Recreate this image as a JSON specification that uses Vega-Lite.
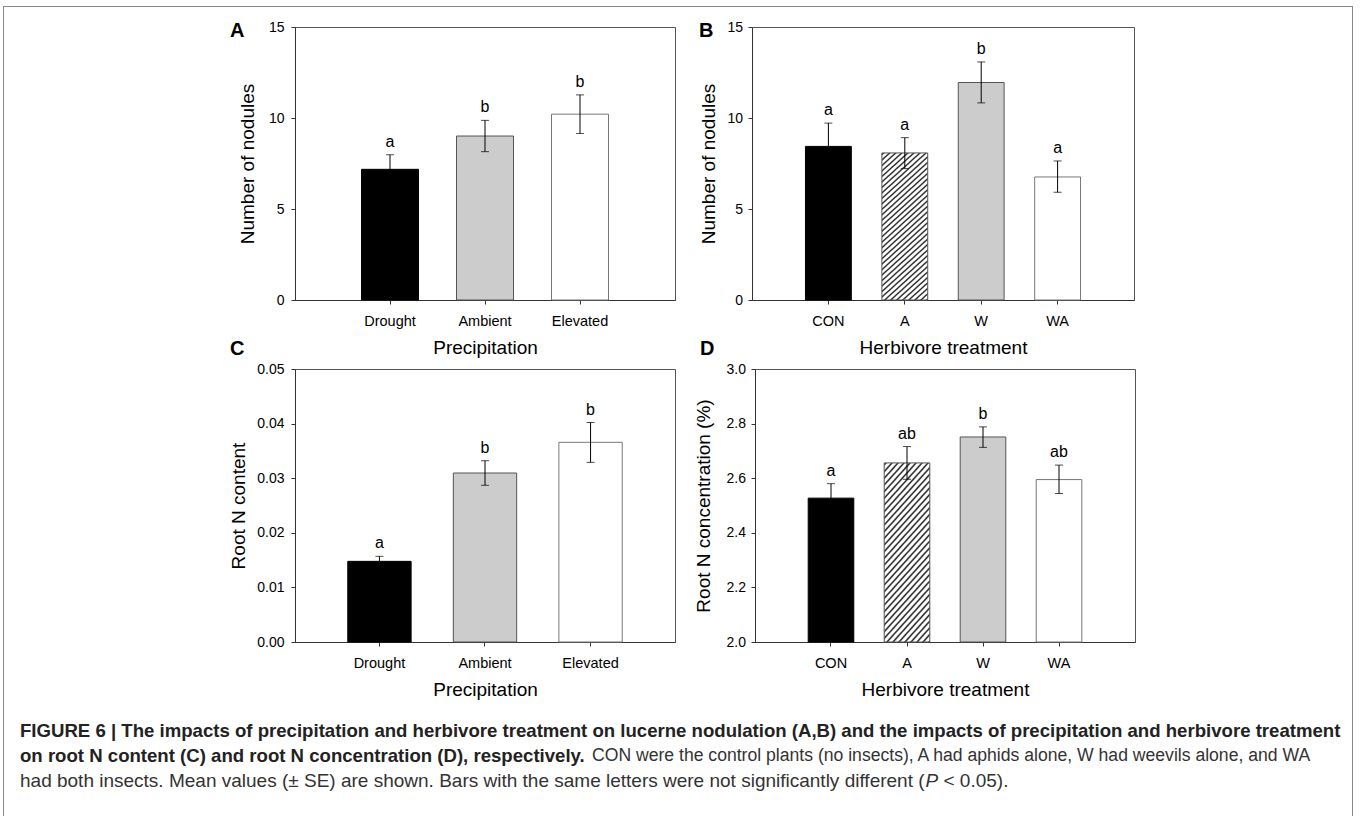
{
  "$schema": "https://vega.github.io/schema/vega-lite/v6.json",
  "padding": {"left": 3, "top": 6, "right": 0, "bottom": 0},
  "background": "white",
  "config": {
    "font": "Liberation Sans",
    "view": {"stroke": "#555", "strokeWidth": 1},
    "axis": {"domainColor": "#333", "tickColor": "#333", "tickSize": 4, "labelColor": "#000", "titleColor": "#000", "labelFontSize": 14, "titleFontSize": 19, "titleFontWeight": "normal", "grid": false, "labelFont": "Liberation Sans", "titleFont": "Liberation Sans"},
    "title": {"font": "Liberation Sans", "fontSize": 20, "fontWeight": "bold", "color": "#000", "anchor": "start", "frame": "group", "baseline": "alphabetic", "offset": 0}
  },
  "spacing": 0,
  "hconcat": [
    {"width": 1, "height": 810, "view": {"stroke": null, "fill": "#888"}, "data": {"values": []}, "mark": "point"},
    {
      "spacing": 0,
      "vconcat": [
        {"width": 1348, "height": 1, "view": {"stroke": null, "fill": "#888"}, "data": {"values": []}, "mark": "point"},
        {"width": 1, "height": 12, "view": {"stroke": null}, "data": {"values": []}, "mark": "point"},
        {
          "spacing": -20,
          "vconcat": [
            {
              "spacing": 22,
              "hconcat": [
                {"width": 203, "height": 1, "view": {"stroke": null}, "data": {"values": []}, "mark": "point"},
                {
                  "width": 380, "height": 273,
                  "title": {"text": "A", "dx": -65, "dy": 24.7},
                  "data": {"values": [
                    {"Precipitation": "Drought", "mean": 7.18, "lo": 6.38, "hi": 7.98, "letter": "a"},
                    {"Precipitation": "Ambient", "mean": 9.01, "lo": 8.15, "hi": 9.87, "letter": "b"},
                    {"Precipitation": "Elevated", "mean": 10.21, "lo": 9.15, "hi": 11.27, "letter": "b"}
                  ]},
                  "encoding": {"x": {"field": "Precipitation", "type": "nominal", "sort": ["Drought", "Ambient", "Elevated"], "scale": {"paddingInner": 0.4, "paddingOuter": 0.7}, "axis": {"labelAngle": 0, "labelPadding": 10, "titlePadding": 11, "labelFontSize": 14.5}, "title": "Precipitation"}},
                  "layer": [
                    {"mark": {"type": "bar", "strokeWidth": 1}, "encoding": {
                      "y": {"field": "mean", "type": "quantitative", "scale": {"domain": [0, 15], "nice": false}, "axis": {"values": [0, 5, 10, 15], "labelPadding": 7, "titlePadding": 11}, "title": "Number of nodules"},
                      "fill": {"field": "Precipitation", "type": "nominal", "scale": {"domain": ["Drought", "Ambient", "Elevated"], "range": ["#000000", "#cccccc", "#ffffff"]}, "legend": null},
                      "stroke": {"field": "Precipitation", "type": "nominal", "scale": {"domain": ["Drought", "Ambient", "Elevated"], "range": ["#000000", "#555555", "#777777"]}, "legend": null}}},
                    {"mark": {"type": "rule", "color": "#000", "strokeWidth": 1}, "encoding": {"y": {"field": "lo", "type": "quantitative", "scale": {"domain": [0, 15], "nice": false}, "title": "Number of nodules"}, "y2": {"field": "hi"}}},
                    {"mark": {"type": "tick", "color": "#000", "size": 8, "thickness": 1}, "encoding": {"y": {"field": "hi", "type": "quantitative", "scale": {"domain": [0, 15], "nice": false}, "title": "Number of nodules"}}},
                    {"mark": {"type": "tick", "color": "#000", "size": 8, "thickness": 1}, "encoding": {"y": {"field": "lo", "type": "quantitative", "scale": {"domain": [0, 15], "nice": false}, "title": "Number of nodules"}}},
                    {"mark": {"type": "text", "fontSize": 16, "baseline": "alphabetic", "dy": -8, "color": "#000"}, "encoding": {"y": {"field": "hi", "type": "quantitative", "scale": {"domain": [0, 15], "nice": false}, "title": "Number of nodules"}, "text": {"field": "letter"}}}
                  ]
                },
                {
                  "width": 382, "height": 273,
                  "title": {"text": "B", "dx": -53, "dy": 24.7},
                  "data": {"values": [
                    {"Herbivore": "CON", "mean": 8.44, "lo": 7.16, "hi": 9.72, "letter": "a"},
                    {"Herbivore": "A", "mean": 8.08, "lo": 7.22, "hi": 8.92, "letter": "a"},
                    {"Herbivore": "W", "mean": 11.95, "lo": 10.83, "hi": 13.08, "letter": "b"},
                    {"Herbivore": "WA", "mean": 6.76, "lo": 5.92, "hi": 7.64, "letter": "a"}
                  ]},
                  "encoding": {"x": {"field": "Herbivore", "type": "nominal", "sort": ["CON", "A", "W", "WA"], "scale": {"paddingInner": 0.4, "paddingOuter": 0.7}, "axis": {"labelAngle": 0, "labelPadding": 10, "titlePadding": 11, "labelFontSize": 14.5}, "title": "Herbivore treatment"}},
                  "layer": [
                    {"transform": [{"filter": "datum.Herbivore !== 'A'"}], "mark": {"type": "bar", "strokeWidth": 1}, "encoding": {
                      "y": {"field": "mean", "type": "quantitative", "scale": {"domain": [0, 15], "nice": false}, "axis": {"values": [0, 5, 10, 15], "labelPadding": 5.5, "titlePadding": 8}, "title": "Number of nodules"},
                      "fill": {"field": "Herbivore", "type": "nominal", "scale": {"domain": ["CON", "W", "WA"], "range": ["#000000", "#cccccc", "#ffffff"]}, "legend": null},
                      "stroke": {"field": "Herbivore", "type": "nominal", "scale": {"domain": ["CON", "W", "WA"], "range": ["#000000", "#555555", "#777777"]}, "legend": null}}},
                    {"transform": [{"filter": "datum.Herbivore === 'A'"}], "mark": {"type": "bar", "strokeWidth": 1, "stroke": "#555555", "fill": {"gradient": "linear", "x1": 0, "y1": 0, "x2": 0.39, "y2": 1.38, "stops": [
                      {"offset":0,"color":"#fff"},{"offset":0.006,"color":"#333"},{"offset":0.009,"color":"#333"},{"offset":0.015,"color":"#fff"},
                      {"offset":0.025,"color":"#fff"},{"offset":0.031,"color":"#333"},{"offset":0.034,"color":"#333"},{"offset":0.04,"color":"#fff"},
                      {"offset":0.05,"color":"#fff"},{"offset":0.056,"color":"#333"},{"offset":0.059,"color":"#333"},{"offset":0.065,"color":"#fff"},
                      {"offset":0.075,"color":"#fff"},{"offset":0.081,"color":"#333"},{"offset":0.084,"color":"#333"},{"offset":0.09,"color":"#fff"},
                      {"offset":0.1,"color":"#fff"},{"offset":0.106,"color":"#333"},{"offset":0.109,"color":"#333"},{"offset":0.115,"color":"#fff"},
                      {"offset":0.125,"color":"#fff"},{"offset":0.131,"color":"#333"},{"offset":0.134,"color":"#333"},{"offset":0.14,"color":"#fff"},
                      {"offset":0.15,"color":"#fff"},{"offset":0.156,"color":"#333"},{"offset":0.159,"color":"#333"},{"offset":0.165,"color":"#fff"},
                      {"offset":0.175,"color":"#fff"},{"offset":0.181,"color":"#333"},{"offset":0.184,"color":"#333"},{"offset":0.19,"color":"#fff"},
                      {"offset":0.2,"color":"#fff"},{"offset":0.206,"color":"#333"},{"offset":0.209,"color":"#333"},{"offset":0.215,"color":"#fff"},
                      {"offset":0.225,"color":"#fff"},{"offset":0.231,"color":"#333"},{"offset":0.234,"color":"#333"},{"offset":0.24,"color":"#fff"},
                      {"offset":0.25,"color":"#fff"},{"offset":0.256,"color":"#333"},{"offset":0.259,"color":"#333"},{"offset":0.265,"color":"#fff"},
                      {"offset":0.275,"color":"#fff"},{"offset":0.281,"color":"#333"},{"offset":0.284,"color":"#333"},{"offset":0.29,"color":"#fff"},
                      {"offset":0.3,"color":"#fff"},{"offset":0.306,"color":"#333"},{"offset":0.309,"color":"#333"},{"offset":0.315,"color":"#fff"},
                      {"offset":0.325,"color":"#fff"},{"offset":0.331,"color":"#333"},{"offset":0.334,"color":"#333"},{"offset":0.34,"color":"#fff"},
                      {"offset":0.35,"color":"#fff"},{"offset":0.356,"color":"#333"},{"offset":0.359,"color":"#333"},{"offset":0.365,"color":"#fff"},
                      {"offset":0.375,"color":"#fff"},{"offset":0.381,"color":"#333"},{"offset":0.384,"color":"#333"},{"offset":0.39,"color":"#fff"},
                      {"offset":0.4,"color":"#fff"},{"offset":0.406,"color":"#333"},{"offset":0.409,"color":"#333"},{"offset":0.415,"color":"#fff"},
                      {"offset":0.425,"color":"#fff"},{"offset":0.431,"color":"#333"},{"offset":0.434,"color":"#333"},{"offset":0.44,"color":"#fff"},
                      {"offset":0.45,"color":"#fff"},{"offset":0.456,"color":"#333"},{"offset":0.459,"color":"#333"},{"offset":0.465,"color":"#fff"},
                      {"offset":0.475,"color":"#fff"},{"offset":0.481,"color":"#333"},{"offset":0.484,"color":"#333"},{"offset":0.49,"color":"#fff"},
                      {"offset":0.5,"color":"#fff"},{"offset":0.506,"color":"#333"},{"offset":0.509,"color":"#333"},{"offset":0.515,"color":"#fff"},
                      {"offset":0.525,"color":"#fff"},{"offset":0.531,"color":"#333"},{"offset":0.534,"color":"#333"},{"offset":0.54,"color":"#fff"},
                      {"offset":0.55,"color":"#fff"},{"offset":0.556,"color":"#333"},{"offset":0.559,"color":"#333"},{"offset":0.565,"color":"#fff"},
                      {"offset":0.575,"color":"#fff"},{"offset":0.581,"color":"#333"},{"offset":0.584,"color":"#333"},{"offset":0.59,"color":"#fff"},
                      {"offset":0.6,"color":"#fff"},{"offset":0.606,"color":"#333"},{"offset":0.609,"color":"#333"},{"offset":0.615,"color":"#fff"},
                      {"offset":0.625,"color":"#fff"},{"offset":0.631,"color":"#333"},{"offset":0.634,"color":"#333"},{"offset":0.64,"color":"#fff"},
                      {"offset":0.65,"color":"#fff"},{"offset":0.656,"color":"#333"},{"offset":0.659,"color":"#333"},{"offset":0.665,"color":"#fff"},
                      {"offset":0.675,"color":"#fff"},{"offset":0.681,"color":"#333"},{"offset":0.684,"color":"#333"},{"offset":0.69,"color":"#fff"},
                      {"offset":0.7,"color":"#fff"},{"offset":0.706,"color":"#333"},{"offset":0.709,"color":"#333"},{"offset":0.715,"color":"#fff"},
                      {"offset":0.725,"color":"#fff"},{"offset":0.731,"color":"#333"},{"offset":0.734,"color":"#333"},{"offset":0.74,"color":"#fff"},
                      {"offset":0.75,"color":"#fff"},{"offset":0.756,"color":"#333"},{"offset":0.759,"color":"#333"},{"offset":0.765,"color":"#fff"},
                      {"offset":0.775,"color":"#fff"},{"offset":0.781,"color":"#333"},{"offset":0.784,"color":"#333"},{"offset":0.79,"color":"#fff"},
                      {"offset":0.8,"color":"#fff"},{"offset":0.806,"color":"#333"},{"offset":0.809,"color":"#333"},{"offset":0.815,"color":"#fff"},
                      {"offset":0.825,"color":"#fff"},{"offset":0.831,"color":"#333"},{"offset":0.834,"color":"#333"},{"offset":0.84,"color":"#fff"},
                      {"offset":0.85,"color":"#fff"},{"offset":0.856,"color":"#333"},{"offset":0.859,"color":"#333"},{"offset":0.865,"color":"#fff"},
                      {"offset":1,"color":"#fff"}]}},
                      "encoding": {"y": {"field": "mean", "type": "quantitative", "scale": {"domain": [0, 15], "nice": false}, "title": "Number of nodules"}}},
                    {"mark": {"type": "rule", "color": "#000", "strokeWidth": 1}, "encoding": {"y": {"field": "lo", "type": "quantitative", "scale": {"domain": [0, 15], "nice": false}, "title": "Number of nodules"}, "y2": {"field": "hi"}}},
                    {"mark": {"type": "tick", "color": "#000", "size": 8, "thickness": 1}, "encoding": {"y": {"field": "hi", "type": "quantitative", "scale": {"domain": [0, 15], "nice": false}, "title": "Number of nodules"}}},
                    {"mark": {"type": "tick", "color": "#000", "size": 8, "thickness": 1}, "encoding": {"y": {"field": "lo", "type": "quantitative", "scale": {"domain": [0, 15], "nice": false}, "title": "Number of nodules"}}},
                    {"mark": {"type": "text", "fontSize": 16, "baseline": "alphabetic", "dy": -8, "color": "#000"}, "encoding": {"y": {"field": "hi", "type": "quantitative", "scale": {"domain": [0, 15], "nice": false}, "title": "Number of nodules"}, "text": {"field": "letter"}}}
                  ]
                }
              ]
            },
            {
              "spacing": 17,
              "hconcat": [
                {"width": 208, "height": 1, "view": {"stroke": null}, "data": {"values": []}, "mark": "point"},
                {
                  "width": 380, "height": 273,
                  "title": {"text": "C", "dx": -65, "dy": 0.5},
                  "data": {"values": [
                    {"Precipitation": "Drought", "mean": 0.01477, "lo": 0.01385, "hi": 0.01569, "letter": "a"},
                    {"Precipitation": "Ambient", "mean": 0.03095, "lo": 0.0287, "hi": 0.0332, "letter": "b"},
                    {"Precipitation": "Elevated", "mean": 0.03657, "lo": 0.0329, "hi": 0.0402, "letter": "b"}
                  ]},
                  "encoding": {"x": {"field": "Precipitation", "type": "nominal", "sort": ["Drought", "Ambient", "Elevated"], "scale": {"paddingInner": 0.4, "paddingOuter": 0.5}, "axis": {"labelAngle": 0, "labelPadding": 10, "titlePadding": 11, "labelFontSize": 14.5}, "title": "Precipitation"}},
                  "layer": [
                    {"mark": {"type": "bar", "strokeWidth": 1}, "encoding": {
                      "y": {"field": "mean", "type": "quantitative", "scale": {"domain": [0, 0.05], "nice": false}, "axis": {"values": [0, 0.01, 0.02, 0.03, 0.04, 0.05], "format": ".2f", "labelPadding": 7, "titlePadding": 8}, "title": "Root N content"},
                      "fill": {"field": "Precipitation", "type": "nominal", "scale": {"domain": ["Drought", "Ambient", "Elevated"], "range": ["#000000", "#cccccc", "#ffffff"]}, "legend": null},
                      "stroke": {"field": "Precipitation", "type": "nominal", "scale": {"domain": ["Drought", "Ambient", "Elevated"], "range": ["#000000", "#555555", "#777777"]}, "legend": null}}},
                    {"mark": {"type": "rule", "color": "#000", "strokeWidth": 1}, "encoding": {"y": {"field": "lo", "type": "quantitative", "scale": {"domain": [0, 0.05], "nice": false}, "title": "Root N content"}, "y2": {"field": "hi"}}},
                    {"mark": {"type": "tick", "color": "#000", "size": 8, "thickness": 1}, "encoding": {"y": {"field": "hi", "type": "quantitative", "scale": {"domain": [0, 0.05], "nice": false}, "title": "Root N content"}}},
                    {"mark": {"type": "tick", "color": "#000", "size": 8, "thickness": 1}, "encoding": {"y": {"field": "lo", "type": "quantitative", "scale": {"domain": [0, 0.05], "nice": false}, "title": "Root N content"}}},
                    {"mark": {"type": "text", "fontSize": 16, "baseline": "alphabetic", "dy": -8, "color": "#000"}, "encoding": {"y": {"field": "hi", "type": "quantitative", "scale": {"domain": [0, 0.05], "nice": false}, "title": "Root N content"}, "text": {"field": "letter"}}}
                  ]
                },
                {
                  "width": 380, "height": 273,
                  "title": {"text": "D", "dx": -55, "dy": 0.5},
                  "data": {"values": [
                    {"Herbivore": "CON", "mean": 2.527, "lo": 2.474, "hi": 2.58, "letter": "a"},
                    {"Herbivore": "A", "mean": 2.656, "lo": 2.596, "hi": 2.716, "letter": "ab"},
                    {"Herbivore": "W", "mean": 2.751, "lo": 2.713, "hi": 2.788, "letter": "b"},
                    {"Herbivore": "WA", "mean": 2.595, "lo": 2.544, "hi": 2.648, "letter": "ab"}
                  ]},
                  "encoding": {"x": {"field": "Herbivore", "type": "nominal", "sort": ["CON", "A", "W", "WA"], "scale": {"paddingInner": 0.4, "paddingOuter": 0.7}, "axis": {"labelAngle": 0, "labelPadding": 10, "titlePadding": 11, "labelFontSize": 14.5}, "title": "Herbivore treatment"}},
                  "layer": [
                    {"transform": [{"filter": "datum.Herbivore !== 'A'"}], "mark": {"type": "bar", "strokeWidth": 1}, "encoding": {
                      "y": {"field": "mean", "type": "quantitative", "scale": {"domain": [2, 3], "zero": false, "nice": false}, "axis": {"values": [2, 2.2, 2.4, 2.6, 2.8, 3], "format": ".1f", "labelPadding": 5.5, "titlePadding": 13}, "title": "Root N concentration (%)"},
                      "y2": {"datum": 2},
                      "fill": {"field": "Herbivore", "type": "nominal", "scale": {"domain": ["CON", "W", "WA"], "range": ["#000000", "#cccccc", "#ffffff"]}, "legend": null},
                      "stroke": {"field": "Herbivore", "type": "nominal", "scale": {"domain": ["CON", "W", "WA"], "range": ["#000000", "#555555", "#777777"]}, "legend": null}}},
                    {"transform": [{"filter": "datum.Herbivore === 'A'"}], "mark": {"type": "bar", "strokeWidth": 1, "stroke": "#555555", "fill": {"gradient": "linear", "x1": 0, "y1": 0, "x2": 0.39, "y2": 1.38, "stops": [
                      {"offset":0,"color":"#fff"},{"offset":0.006,"color":"#333"},{"offset":0.009,"color":"#333"},{"offset":0.015,"color":"#fff"},
                      {"offset":0.025,"color":"#fff"},{"offset":0.031,"color":"#333"},{"offset":0.034,"color":"#333"},{"offset":0.04,"color":"#fff"},
                      {"offset":0.05,"color":"#fff"},{"offset":0.056,"color":"#333"},{"offset":0.059,"color":"#333"},{"offset":0.065,"color":"#fff"},
                      {"offset":0.075,"color":"#fff"},{"offset":0.081,"color":"#333"},{"offset":0.084,"color":"#333"},{"offset":0.09,"color":"#fff"},
                      {"offset":0.1,"color":"#fff"},{"offset":0.106,"color":"#333"},{"offset":0.109,"color":"#333"},{"offset":0.115,"color":"#fff"},
                      {"offset":0.125,"color":"#fff"},{"offset":0.131,"color":"#333"},{"offset":0.134,"color":"#333"},{"offset":0.14,"color":"#fff"},
                      {"offset":0.15,"color":"#fff"},{"offset":0.156,"color":"#333"},{"offset":0.159,"color":"#333"},{"offset":0.165,"color":"#fff"},
                      {"offset":0.175,"color":"#fff"},{"offset":0.181,"color":"#333"},{"offset":0.184,"color":"#333"},{"offset":0.19,"color":"#fff"},
                      {"offset":0.2,"color":"#fff"},{"offset":0.206,"color":"#333"},{"offset":0.209,"color":"#333"},{"offset":0.215,"color":"#fff"},
                      {"offset":0.225,"color":"#fff"},{"offset":0.231,"color":"#333"},{"offset":0.234,"color":"#333"},{"offset":0.24,"color":"#fff"},
                      {"offset":0.25,"color":"#fff"},{"offset":0.256,"color":"#333"},{"offset":0.259,"color":"#333"},{"offset":0.265,"color":"#fff"},
                      {"offset":0.275,"color":"#fff"},{"offset":0.281,"color":"#333"},{"offset":0.284,"color":"#333"},{"offset":0.29,"color":"#fff"},
                      {"offset":0.3,"color":"#fff"},{"offset":0.306,"color":"#333"},{"offset":0.309,"color":"#333"},{"offset":0.315,"color":"#fff"},
                      {"offset":0.325,"color":"#fff"},{"offset":0.331,"color":"#333"},{"offset":0.334,"color":"#333"},{"offset":0.34,"color":"#fff"},
                      {"offset":0.35,"color":"#fff"},{"offset":0.356,"color":"#333"},{"offset":0.359,"color":"#333"},{"offset":0.365,"color":"#fff"},
                      {"offset":0.375,"color":"#fff"},{"offset":0.381,"color":"#333"},{"offset":0.384,"color":"#333"},{"offset":0.39,"color":"#fff"},
                      {"offset":0.4,"color":"#fff"},{"offset":0.406,"color":"#333"},{"offset":0.409,"color":"#333"},{"offset":0.415,"color":"#fff"},
                      {"offset":0.425,"color":"#fff"},{"offset":0.431,"color":"#333"},{"offset":0.434,"color":"#333"},{"offset":0.44,"color":"#fff"},
                      {"offset":0.45,"color":"#fff"},{"offset":0.456,"color":"#333"},{"offset":0.459,"color":"#333"},{"offset":0.465,"color":"#fff"},
                      {"offset":0.475,"color":"#fff"},{"offset":0.481,"color":"#333"},{"offset":0.484,"color":"#333"},{"offset":0.49,"color":"#fff"},
                      {"offset":0.5,"color":"#fff"},{"offset":0.506,"color":"#333"},{"offset":0.509,"color":"#333"},{"offset":0.515,"color":"#fff"},
                      {"offset":0.525,"color":"#fff"},{"offset":0.531,"color":"#333"},{"offset":0.534,"color":"#333"},{"offset":0.54,"color":"#fff"},
                      {"offset":0.55,"color":"#fff"},{"offset":0.556,"color":"#333"},{"offset":0.559,"color":"#333"},{"offset":0.565,"color":"#fff"},
                      {"offset":0.575,"color":"#fff"},{"offset":0.581,"color":"#333"},{"offset":0.584,"color":"#333"},{"offset":0.59,"color":"#fff"},
                      {"offset":0.6,"color":"#fff"},{"offset":0.606,"color":"#333"},{"offset":0.609,"color":"#333"},{"offset":0.615,"color":"#fff"},
                      {"offset":0.625,"color":"#fff"},{"offset":0.631,"color":"#333"},{"offset":0.634,"color":"#333"},{"offset":0.64,"color":"#fff"},
                      {"offset":0.65,"color":"#fff"},{"offset":0.656,"color":"#333"},{"offset":0.659,"color":"#333"},{"offset":0.665,"color":"#fff"},
                      {"offset":0.675,"color":"#fff"},{"offset":0.681,"color":"#333"},{"offset":0.684,"color":"#333"},{"offset":0.69,"color":"#fff"},
                      {"offset":0.7,"color":"#fff"},{"offset":0.706,"color":"#333"},{"offset":0.709,"color":"#333"},{"offset":0.715,"color":"#fff"},
                      {"offset":0.725,"color":"#fff"},{"offset":0.731,"color":"#333"},{"offset":0.734,"color":"#333"},{"offset":0.74,"color":"#fff"},
                      {"offset":0.75,"color":"#fff"},{"offset":0.756,"color":"#333"},{"offset":0.759,"color":"#333"},{"offset":0.765,"color":"#fff"},
                      {"offset":0.775,"color":"#fff"},{"offset":0.781,"color":"#333"},{"offset":0.784,"color":"#333"},{"offset":0.79,"color":"#fff"},
                      {"offset":0.8,"color":"#fff"},{"offset":0.806,"color":"#333"},{"offset":0.809,"color":"#333"},{"offset":0.815,"color":"#fff"},
                      {"offset":0.825,"color":"#fff"},{"offset":0.831,"color":"#333"},{"offset":0.834,"color":"#333"},{"offset":0.84,"color":"#fff"},
                      {"offset":0.85,"color":"#fff"},{"offset":0.856,"color":"#333"},{"offset":0.859,"color":"#333"},{"offset":0.865,"color":"#fff"},
                      {"offset":1,"color":"#fff"}]}},
                      "encoding": {"y": {"field": "mean", "type": "quantitative", "scale": {"domain": [2, 3], "zero": false, "nice": false}, "title": "Root N concentration (%)"}, "y2": {"datum": 2}}},
                    {"mark": {"type": "rule", "color": "#000", "strokeWidth": 1}, "encoding": {"y": {"field": "lo", "type": "quantitative", "scale": {"domain": [2, 3], "zero": false, "nice": false}, "title": "Root N concentration (%)"}, "y2": {"field": "hi"}}},
                    {"mark": {"type": "tick", "color": "#000", "size": 8, "thickness": 1}, "encoding": {"y": {"field": "hi", "type": "quantitative", "scale": {"domain": [2, 3], "zero": false, "nice": false}, "title": "Root N concentration (%)"}}},
                    {"mark": {"type": "tick", "color": "#000", "size": 8, "thickness": 1}, "encoding": {"y": {"field": "lo", "type": "quantitative", "scale": {"domain": [2, 3], "zero": false, "nice": false}, "title": "Root N concentration (%)"}}},
                    {"mark": {"type": "text", "fontSize": 16, "baseline": "alphabetic", "dy": -8, "color": "#000"}, "encoding": {"y": {"field": "hi", "type": "quantitative", "scale": {"domain": [2, 3], "zero": false, "nice": false}, "title": "Root N concentration (%)"}, "text": {"field": "letter"}}}
                  ]
                }
              ]
            }
          ]
        },
        {"width": 1, "height": 18, "view": {"stroke": null}, "data": {"values": []}, "mark": "point"},
        {
          "width": 1300, "height": 75,
          "view": {"stroke": null},
          "data": {"values": [
            {"line": 1, "part": "b", "text": "FIGURE 6 | The impacts of precipitation and herbivore treatment on lucerne nodulation (A,B) and the impacts of precipitation and herbivore treatment"},
            {"line": 2, "part": "b", "text": "on root N content (C) and root N concentration (D), respectively."},
            {"line": 2, "part": "r", "text": "CON were the control plants (no insects), A had aphids alone, W had weevils alone, and WA"},
            {"line": 3, "part": "r", "text": "had both insects. Mean values (± SE) are shown. Bars with the same letters were not significantly different ("},
            {"line": 3, "part": "i", "text": "P"},
            {"line": 3, "part": "e", "text": "< 0.05)."}
          ]},
          "encoding": {
            "y": {"field": "line", "type": "ordinal", "axis": null},
            "x": {"datum": 0, "type": "quantitative", "scale": {"domain": [0, 1]}, "axis": null},
            "text": {"field": "text"}
          },
          "layer": [
            {"transform": [{"filter": "datum.part === 'b'"}], "mark": {"type": "text", "align": "left", "baseline": "middle", "fontWeight": "bold", "fontSize": 18.6, "dx": 16, "color": "#222"}},
            {"transform": [{"filter": "datum.line === 2 && datum.part === 'r'"}], "mark": {"type": "text", "align": "left", "baseline": "middle", "fontSize": 17.6, "dx": 588, "color": "#333"}},
            {"transform": [{"filter": "datum.line === 3 && datum.part === 'r'"}], "mark": {"type": "text", "align": "left", "baseline": "middle", "fontSize": 19, "dx": 16, "color": "#333"}},
            {"transform": [{"filter": "datum.part === 'i'"}], "mark": {"type": "text", "align": "left", "baseline": "middle", "fontSize": 19, "fontStyle": "italic", "dx": 921.5, "color": "#333"}},
            {"transform": [{"filter": "datum.part === 'e'"}], "mark": {"type": "text", "align": "left", "baseline": "middle", "fontSize": 19, "dx": 939.5, "color": "#333"}}
          ]
        },
        {"width": 1, "height": 34, "view": {"stroke": null}, "data": {"values": []}, "mark": "point"},
        {"width": 1348, "height": 1, "view": {"stroke": null, "fill": "#888"}, "data": {"values": []}, "mark": "point"}
      ]
    },
    {"width": 1, "height": 810, "view": {"stroke": null, "fill": "#888"}, "data": {"values": []}, "mark": "point"}
  ]
}
